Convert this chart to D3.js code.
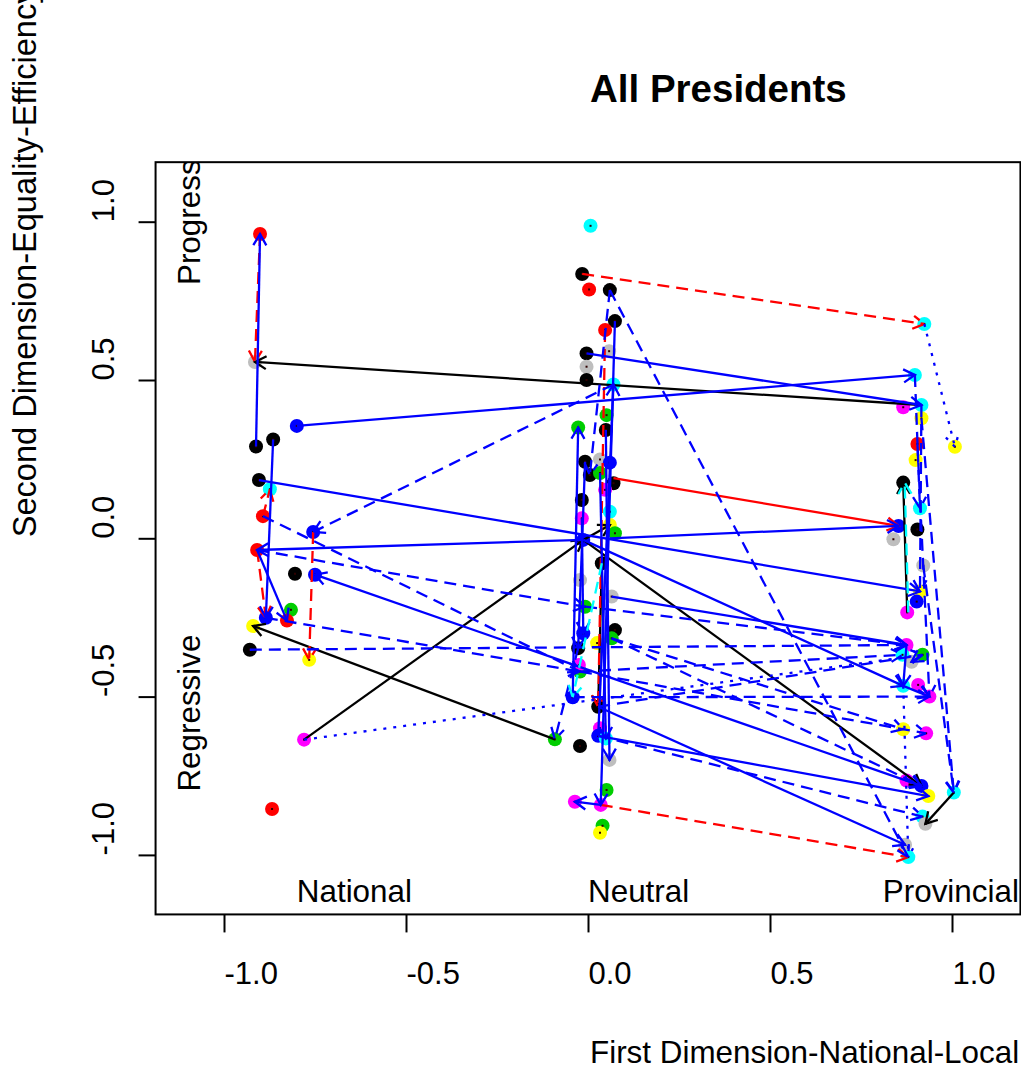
<!DOCTYPE html>
<html>
<head>
<meta charset="utf-8">
<script src="https://cdn.jsdelivr.net/npm/d3@7"></script>
<style>
  html, body { margin: 0; padding: 0; background: #fff; }
  svg { display: block; }
  text { font-family: "Liberation Sans", Arial, sans-serif; }
</style>
</head>
<body>
<svg id="chart" width="1021" height="1069"></svg>
<script>
// ---------- data ----------
const xTicks = [-1, -0.5, 0, 0.5, 1];
const xTickLabels = ["-1.0", "-0.5", "0.0", "0.5", "1.0"];
const yTicks = [-1, -0.5, 0, 0.5, 1];
const yTickLabels = ["-1.0", "-0.5", "0.0", "0.5", "1.0"];

const paletteNames = ["black", "red", "green", "blue", "cyan", "magenta", "yellow", "gray"];
const paletteHex = ["#000000", "#FF0000", "#00CD00", "#0000FF", "#00FFFF", "#FF00FF", "#FFFF00", "#BEBEBE"];

// points: x, y, colour
const pointX = [
  -0.901,-0.915,-0.800,-0.912,-0.865,-0.904,-0.874,-0.893,-0.755,-0.909,-0.805,-0.750,-0.816,-0.885,-0.827,-0.920,-0.929,-0.766,-0.780,-0.868,
  0.007,-0.016,0.003,0.060,0.074,0.047,-0.004,0.058,-0.004,-0.004,0.070,-0.027,0.051,0.049,-0.008,0.033,0.060,0.005,0.033,0.070,0.047,-0.017,-0.017,0.060,0.060,0.074,-0.013,0.038,-0.022,0.065,-0.008,0.074,0.065,-0.013,-0.027,-0.022,-0.025,-0.042,0.028,-0.091,-0.022,0.033,0.028,0.049,0.059,0.051,-0.036,0.035,0.040,0.033,0.025,
  0.924,0.898,0.916,0.866,0.916,1.008,0.905,0.900,0.866,0.912,0.853,0.905,0.839,0.921,0.912,0.903,0.877,0.875,0.864,0.919,0.889,0.866,0.907,0.938,0.866,0.929,0.875,0.916,0.935,1.005,0.919,0.927,0.871,0.880
];
const pointY = [
  0.961,0.557,0.355,0.290,0.312,0.184,0.155,0.070,0.020,-0.037,-0.112,-0.115,-0.226,-0.251,-0.260,-0.277,-0.352,-0.384,-0.636,-0.855,
  0.987,0.835,0.786,0.784,0.686,0.658,0.584,0.591,0.542,0.500,0.486,0.350,0.389,0.342,0.242,0.249,0.239,0.200,0.206,0.174,0.153,0.121,0.063,0.084,0.042,0.016,-0.005,-0.079,-0.132,-0.184,-0.216,-0.290,-0.316,-0.300,-0.347,-0.421,-0.400,-0.502,-0.532,-0.635,-0.656,-0.600,-0.624,-0.632,-0.700,-0.795,-0.832,-0.842,-0.908,-0.930,-0.331,
  0.677,0.516,0.421,0.414,0.379,0.289,0.298,0.247,0.176,0.095,0.039,0.028,-0.003,-0.086,-0.168,-0.200,-0.234,-0.337,-0.368,-0.368,-0.390,-0.466,-0.463,-0.500,-0.603,-0.616,-0.765,-0.782,-0.814,-0.803,-0.879,-0.902,-0.968,-1.007
];
const pointCol = [
  "red","gray","blue","black","black","black","cyan","red","blue","red","black","blue","green","blue","red","yellow","black","yellow","magenta","red",
  "cyan","black","red","black","black","red","black","gray","gray","black","cyan","green","green","black","black","gray","blue","black","green","black","magenta","black","magenta","cyan","yellow","green","blue","black","gray","gray","green","black","green","blue","black","green","magenta","blue","black","green","black","magenta","blue","cyan","gray","green","magenta","magenta","green","yellow","yellow",
  "cyan","cyan","cyan","magenta","yellow","yellow","red","yellow","black","cyan","blue","black","gray","gray","yellow","blue","magenta","magenta","cyan","green","gray","cyan","magenta","magenta","yellow","magenta","magenta","blue","yellow","cyan","cyan","gray","gray","cyan"
];

// arrows: from (x0,y0) to (x1,y1), colour, line type (1 solid, 2 dashed, 3 dotted)
const arrowX0 = [
  0.916,-0.780,-0.091,-0.013,1.005,0.877,-0.013,0.038,
  0.070,-0.016,0.035,-0.901,-0.893,-0.909,-0.755,0.047,
  -0.800,-0.004,-0.904,0.060,-0.013,0.916,-0.013,0.065,0.028,0.028,-0.912,-0.865,-0.909,0.074,0.028,-0.042,0.049,-0.008,-0.017,0.033,0.035,0.866,0.875,0.919,0.875,
  0.060,0.060,0.070,-0.893,-0.909,-0.885,-0.929,-0.780,-0.008,0.065,-0.022,0.028,-0.022,-0.042,0.065,0.028,-0.027,0.898,0.916,0.905,0.921,0.924,0.866,0.916,
  0.880,0.038
];
const arrowY0 = [
  0.421,-0.636,-0.635,-0.005,-0.803,-0.234,-0.005,-0.079,
  0.190,0.835,-0.842,0.961,0.070,-0.037,0.020,0.658,
  0.355,0.584,0.184,0.000,-0.005,-0.782,-0.005,-0.184,-0.624,-0.532,0.290,0.312,-0.037,0.686,-0.624,-0.502,0.342,0.242,0.063,0.206,-0.842,-0.466,-0.337,-0.368,-0.765,
  0.784,0.784,0.486,0.070,-0.037,-0.251,-0.352,-0.636,-0.216,-0.316,-0.421,-0.532,-0.421,-0.502,-0.316,-0.624,-0.347,0.516,0.379,0.298,-0.086,0.677,-0.466,0.421,
  -0.234,-0.079
];
const arrowX1 = [
  -0.915,-0.013,-0.920,0.916,0.927,0.866,0.060,0.028,
  0.853,0.924,0.880,-0.915,-0.874,-0.885,-0.766,0.028,
  0.898,0.916,0.912,0.853,-0.909,-0.750,0.866,0.875,0.935,0.871,-0.901,-0.885,-0.827,0.035,0.070,-0.027,0.059,-0.027,-0.013,0.049,-0.036,0.938,0.866,0.889,0.916,
  0.880,0.005,-0.755,-0.022,-0.008,-0.022,0.875,0.919,0.875,0.866,0.864,0.919,0.929,0.938,0.916,0.919,-0.091,0.912,1.005,0.938,1.005,1.008,0.880,0.912,
  0.870,-0.042
];
const arrowY1 = [
  0.557,-0.005,-0.277,-0.782,-0.902,0.176,0.042,-0.532,
  0.039,0.677,-1.007,0.557,0.155,-0.251,-0.384,-0.532,
  0.516,0.421,-0.168,0.039,-0.037,-0.115,-0.466,-0.337,-0.814,-0.968,0.961,-0.251,-0.260,-0.842,0.486,0.350,-0.700,-0.347,-0.300,-0.632,-0.832,-0.500,-0.466,-0.390,-0.782,
  -1.007,0.200,0.020,-0.421,-0.216,-0.421,-0.337,-0.368,-0.337,-0.603,-0.368,-0.368,-0.616,-0.500,-0.782,-0.879,-0.635,0.095,-0.803,-0.500,-0.803,0.289,-1.007,-0.168,
  0.176,-0.502
];
const arrowCol = [
  "black","black","black","black","black","black","black","black",
  "red","red","red","red","red","red","red","red",
  "blue","blue","blue","blue","blue","blue","blue","blue","blue","blue","blue","blue","blue","blue","blue","blue","blue","blue","blue","blue","blue","blue","blue","blue","blue",
  "blue","blue","blue","blue","blue","blue","blue","blue","blue","blue","blue","blue","blue","blue","blue","blue","blue","blue","blue","blue","blue","blue","blue","blue",
  "cyan","cyan"
];
const arrowLty = [
  1,1,1,1,1,1,1,1,
  1,2,2,2,2,2,2,2,
  1,1,1,1,1,1,1,1,1,1,1,1,1,1,1,1,1,1,1,1,1,1,1,1,1,
  2,2,2,2,2,2,2,3,2,2,2,2,2,2,2,2,2,2,2,2,2,3,3,2,
  2,2
];

const titleText = "All Presidents";
const xLabel = "First Dimension-National-Local";
const yLabel = "Second Dimension-Equality-Efficiency";
const annoText = ["National", "Neutral", "Provincial"];
const annoX = [-0.8, 0.0, 0.81];
const sideText = ["Progressive", "Regressive"];
const sideY = [0.8, -0.8];

// ---------- drawing ----------
const colorOf = d3.scaleOrdinal().domain(paletteNames).range(paletteHex);
const ltyDash = { 1: null, 2: "12,7", 3: "3,7" };

const svg = d3.select("#chart");
const xs = d3.scaleLinear().domain([-1, 1]).range([224, 952]);
const ys = d3.scaleLinear().domain([-1, 1]).range([854.9, 221.7]);
const lim = 1.188;
const pL = xs(-lim), pR = xs(lim), pT = ys(lim), pB = ys(-lim);

svg.append("defs").append("clipPath").attr("id", "plotclip")
  .append("rect").attr("x", pL).attr("y", pT)
  .attr("width", pR - pL).attr("height", pB - pT);

const plot = svg.append("g").attr("clip-path", "url(#plotclip)");

// points
const pts = d3.range(pointX.length).map(i => ({ x: pointX[i], y: pointY[i], c: pointCol[i] }));
plot.append("g").selectAll("circle").data(pts).join("circle")
  .attr("cx", d => xs(d.x)).attr("cy", d => ys(d.y)).attr("r", 7)
  .attr("fill", d => colorOf(d.c));
plot.append("g").selectAll("rect").data(pts).join("rect")
  .attr("x", d => xs(d.x) - 1).attr("y", d => ys(d.y) - 1)
  .attr("width", 2).attr("height", 2).attr("fill", "#300000");

// arrows
const arrows = d3.range(arrowX0.length).map(i => ({
  x0: arrowX0[i], y0: arrowY0[i], x1: arrowX1[i], y1: arrowY1[i], c: arrowCol[i], lty: arrowLty[i]
}));
const headLen = 13, headAng = Math.PI / 6;
const ag = plot.append("g").attr("fill", "none").attr("stroke-width", 2.3).attr("stroke-linecap", "butt");
arrows.forEach(a => {
  const px0 = xs(a.x0), py0 = ys(a.y0), px1 = xs(a.x1), py1 = ys(a.y1);
  const ang = Math.atan2(py1 - py0, px1 - px0);
  const g = ag.append("g").attr("stroke", colorOf(a.c)).attr("stroke-dasharray", ltyDash[a.lty]);
  g.append("line").attr("x1", px0).attr("y1", py0).attr("x2", px1).attr("y2", py1);
  const hp = d3.path();
  hp.moveTo(px1 - headLen * Math.cos(ang - headAng), py1 - headLen * Math.sin(ang - headAng));
  hp.lineTo(px1, py1);
  hp.lineTo(px1 - headLen * Math.cos(ang + headAng), py1 - headLen * Math.sin(ang + headAng));
  g.append("path").attr("d", hp.toString());
});

// in-plot annotations
plot.append("g").selectAll("text").data(annoText).join("text")
  .attr("x", (d, i) => xs(annoX[i])).attr("y", ys(-1.1) + 15)
  .attr("font-size", 31.4).attr("fill", "#000").text(d => d);
plot.append("g").selectAll("text").data(sideText).join("text")
  .attr("transform", (d, i) => `translate(${xs(-1.1) + 12},${ys(sideY[i])}) rotate(-90)`)
  .attr("font-size", 31.4).attr("fill", "#000").text(d => d);

// box
svg.append("rect").attr("x", pL).attr("y", pT)
  .attr("width", pR - pL).attr("height", pB - pT)
  .attr("fill", "none").attr("stroke", "#000").attr("stroke-width", 2);

// x axis
const xa = svg.append("g").attr("transform", `translate(0,${pB})`)
  .call(d3.axisBottom(xs).tickValues(xTicks).tickSize(18).tickFormat((d, i) => xTickLabels[i]));
xa.select(".domain").remove();
xa.selectAll(".tick line").attr("stroke", "#000").attr("stroke-width", 2);
xa.selectAll(".tick text").attr("y", 70).attr("dy", null).attr("x", 0)
  .attr("text-anchor", "start").attr("font-size", 31).attr("fill", "#000")
  .attr("font-family", '"Liberation Sans", Arial, sans-serif');

// y axis
const ya = svg.append("g").attr("transform", `translate(${pL},0)`)
  .call(d3.axisLeft(ys).tickValues(yTicks).tickSize(17).tickFormat((d, i) => yTickLabels[i]));
ya.select(".domain").remove();
ya.selectAll(".tick line").attr("stroke", "#000").attr("stroke-width", 2);
ya.selectAll(".tick text").attr("x", 0).attr("y", 0).attr("dy", null)
  .attr("transform", "translate(-42,0) rotate(-90)")
  .attr("text-anchor", "start").attr("font-size", 31).attr("fill", "#000")
  .attr("font-family", '"Liberation Sans", Arial, sans-serif');

// titles
svg.append("text").attr("x", xs(0) + 2).attr("y", 102)
  .attr("font-size", 38.5).attr("font-weight", "bold").attr("fill", "#000").text(titleText);
svg.append("text").attr("x", xs(0) + 2).attr("y", 1063)
  .attr("font-size", 31.4).attr("fill", "#000").text(xLabel);
svg.append("text").attr("transform", `translate(36,${ys(0) - 1}) rotate(-90)`)
  .attr("font-size", 32.6).attr("fill", "#000").text(yLabel);
</script>
</body>
</html>
